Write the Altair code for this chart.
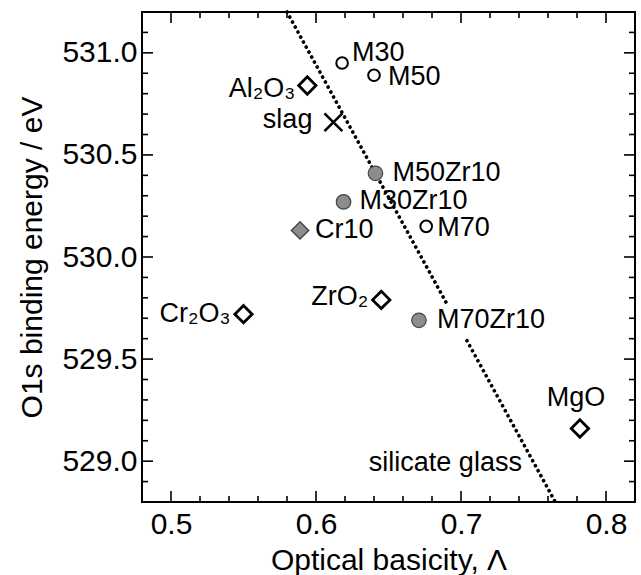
import altair as alt
import pandas as pd

# ---- data ----
labels = ["M30", "M50", "M70", "M30Zr10", "M50Zr10", "M70Zr10",
          "Cr10", "Al₂O₃", "Cr₂O₃", "ZrO₂", "MgO", "slag"]
basicity = [0.618, 0.640, 0.676, 0.619, 0.641, 0.671,
            0.589, 0.594, 0.550, 0.645, 0.782, 0.612]
binding = [530.95, 530.89, 530.15, 530.27, 530.41, 529.69,
           530.13, 530.84, 529.72, 529.79, 529.16, 530.66]
kinds = ["open circle", "open circle", "open circle",
         "filled circle", "filled circle", "filled circle",
         "filled diamond", "open diamond", "open diamond", "open diamond",
         "open diamond", "cross"]

# silicate glass trend line (two pieces, broken behind the M70Zr10 label)
line_x = [0.580, 0.6903, 0.7041, 0.765]
line_y = [531.2, 529.77, 529.59, 528.8]
line_seg = ["a", "a", "b", "b"]

glass_text = ["silicate glass"]
glass_x = [0.742]
glass_y = [528.99]

x_major = [0.5, 0.6, 0.7, 0.8]
x_minor = [0.52, 0.54, 0.56, 0.58, 0.62, 0.64, 0.66, 0.68,
           0.72, 0.74, 0.76, 0.78]
y_major = [529.0, 529.5, 530.0, 530.5, 531.0]
y_minor = [528.9, 529.1, 529.2, 529.3, 529.4, 529.6, 529.7, 529.8, 529.9,
           530.1, 530.2, 530.3, 530.4, 530.6, 530.7, 530.8, 530.9, 531.1]

x_domain = [0.48, 0.82]
y_domain = [528.8, 531.2]

W, H = 493, 490
FONT = "Liberation Sans"

pts = pd.DataFrame({"x": basicity, "y": binding, "label": labels, "kind": kinds})
line_df = pd.DataFrame({"x": line_x, "y": line_y, "seg": line_seg})
glass_df = pd.DataFrame({"x": glass_x, "y": glass_y, "t": glass_text})
xmaj_df = pd.DataFrame({"x": x_major})
xmin_df = pd.DataFrame({"x": x_minor})
ymaj_df = pd.DataFrame({"y": y_major})
ymin_df = pd.DataFrame({"y": y_minor})

xs = alt.Scale(domain=x_domain, nice=False, zero=False)
ys = alt.Scale(domain=y_domain, nice=False, zero=False)
x_axis = alt.Axis(values=x_major, format=".1f", ticks=False, domain=False, grid=False,
                  labelFontSize=30, labelPadding=7, labelFont=FONT, labelColor="black",
                  title="Optical basicity, Λ", titleFontSize=30, titleFont=FONT,
                  titleFontWeight="normal", titleColor="black", titlePadding=6)
y_axis = alt.Axis(values=y_major, format=".1f", ticks=False, domain=False, grid=False,
                  labelFontSize=30, labelPadding=5, labelFont=FONT, labelColor="black",
                  title="O1s binding energy / eV", titleFontSize=30, titleFont=FONT,
                  titleFontWeight="normal", titleColor="black", titlePadding=14)
X = alt.X("x:Q", scale=xs, axis=x_axis)
Y = alt.Y("y:Q", scale=ys, axis=y_axis)

layers = []

# tick marks drawn inward on all four sides
for df, ln in [(xmaj_df, 11), (xmin_df, 6)]:
    layers.append(alt.Chart(df).mark_rule(color="black", strokeWidth=1.6).encode(
        x=X, y=alt.value(H), y2=alt.value(H - ln)))
    layers.append(alt.Chart(df).mark_rule(color="black", strokeWidth=1.6).encode(
        x=X, y=alt.value(0), y2=alt.value(ln)))
for df, ln in [(ymaj_df, 11), (ymin_df, 6)]:
    layers.append(alt.Chart(df).mark_rule(color="black", strokeWidth=1.6).encode(
        y=Y, x=alt.value(0), x2=alt.value(ln)))
    layers.append(alt.Chart(df).mark_rule(color="black", strokeWidth=1.6).encode(
        y=Y, x=alt.value(W), x2=alt.value(W - ln)))

# dotted trend line
layers.append(alt.Chart(line_df).mark_line(
    color="black", strokeWidth=3.6, strokeDash=[0.1, 5.6], strokeCap="round").encode(
    x=X, y=Y, detail="seg:N"))

# markers
def sub(kind):
    return alt.Chart(pts).transform_filter(alt.datum.kind == kind)

layers.append(sub("open circle").mark_point(
    shape="circle", filled=False, size=135, stroke="black", strokeWidth=2, opacity=1
).encode(x=X, y=Y))
layers.append(sub("filled circle").mark_point(
    shape="circle", filled=True, size=210, fill="#8c8c8c", stroke="#444444",
    strokeWidth=1.2, opacity=1).encode(x=X, y=Y))
layers.append(sub("open diamond").mark_point(
    shape="diamond", filled=False, size=300, stroke="black", strokeWidth=2.8, opacity=1
).encode(x=X, y=Y))
layers.append(sub("filled diamond").mark_point(
    shape="diamond", filled=True, size=300, fill="#8c8c8c", stroke="#444444",
    strokeWidth=1.4, opacity=1).encode(x=X, y=Y))
layers.append(sub("cross").mark_point(
    shape="M-1,-1L1,1M-1,1L1,-1", filled=False, size=320, stroke="black",
    strokeWidth=2.6, opacity=1).encode(x=X, y=Y))

# point labels (offsets in pixels)
label_style = {
    "M30": (10, -10, "left"),
    "M50": (14, 2, "left"),
    "M70": (11, 2, "left"),
    "M30Zr10": (16, -1, "left"),
    "M50Zr10": (17, 0, "left"),
    "M70Zr10": (18, 0, "left"),
    "Cr10": (15, 0, "left"),
    "Al₂O₃": (-12, 3, "right"),
    "Cr₂O₃": (-13, 0, "right"),
    "ZrO₂": (-13, -3, "right"),
    "MgO": (-4, -31, "center"),
    "slag": (-21, -2, "right"),
}
for lab in labels:
    dx, dy, al = label_style[lab]
    layers.append(alt.Chart(pts).transform_filter(alt.datum.label == lab).mark_text(
        dx=dx, dy=dy, align=al, baseline="middle", font=FONT, fontSize=27, color="black"
    ).encode(x=X, y=Y, text="label:N"))

layers.append(alt.Chart(glass_df).mark_text(
    align="right", baseline="middle", font=FONT, fontSize=27, color="black"
).encode(x=X, y=Y, text="t:N"))

chart = alt.layer(*layers).properties(
    width=W, height=H,
    autosize=alt.AutoSizeParams(type="none"),
    padding={"left": 142, "top": 12, "right": 6, "bottom": 73},
    background="white",
).configure_view(stroke="black", strokeWidth=2)

chart.save("out.html", embed_options={"renderer": "svg", "actions": False})
